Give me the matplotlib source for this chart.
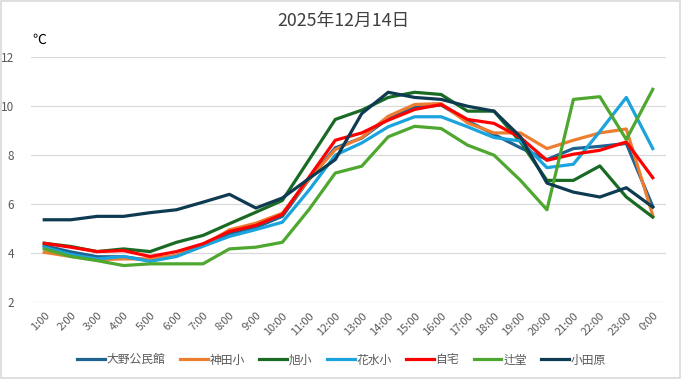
import numpy as np
import matplotlib
matplotlib.use("Agg")
import matplotlib.pyplot as plt
from matplotlib.patches import Rectangle

plt.rcParams['font.family'] = ['Noto Sans CJK JP', 'DejaVu Sans']

hours = [f"{h}:00" for h in range(1, 24)] + ["0:00"]

# temperatures (℃)
oono = [4.3, 4.05, 3.85, 3.85, 3.7, 3.9, 4.3, 4.8, 5.05, 5.5, 7.0, 8.3,
        8.7, 9.5, 9.95, 10.05, 9.4, 8.85, 8.3, 7.82, 8.27, 8.36, 8.48, 5.9]
kanda = [4.03, 3.86, 3.73, 3.76, 3.76, 3.9, 4.3, 4.95, 5.22, 5.63, 7.0, 8.23,
         8.72, 9.59, 10.07, 10.11, 9.32, 8.91, 8.91, 8.27, 8.61, 8.91, 9.07, 5.54]
asahi = [4.4, 4.27, 4.06, 4.17, 4.06, 4.44, 4.72, 5.2, 5.67, 6.15, 7.8, 9.46,
         9.84, 10.36, 10.57, 10.48, 9.8, 9.8, 8.54, 6.97, 6.97, 7.56, 6.29, 5.47]
hanamizu = [4.24, 3.94, 3.76, 3.86, 3.66, 3.86, 4.28, 4.68, 4.96, 5.26, 6.56, 8.0,
            8.5, 9.16, 9.57, 9.57, 9.16, 8.72, 8.58, 7.49, 7.63, 8.97, 10.36, 8.27]
jitaku = [4.4, 4.24, 4.06, 4.1, 3.86, 4.06, 4.38, 4.88, 5.13, 5.58, 7.09, 8.61,
          8.91, 9.43, 9.87, 10.07, 9.46, 9.3, 8.72, 7.79, 8.04, 8.2, 8.54, 7.08]
tsujido = [4.17, 3.86, 3.69, 3.49, 3.56, 3.56, 3.56, 4.17, 4.24, 4.44, 5.77, 7.27,
           7.55, 8.75, 9.18, 9.09, 8.41, 8.0, 6.97, 5.77, 10.28, 10.39, 8.64, 10.69]
odawara = [5.36, 5.36, 5.5, 5.5, 5.65, 5.77, 6.08, 6.4, 5.84, 6.25, 7.04, 7.82,
           9.7, 10.57, 10.36, 10.28, 10.0, 9.8, 8.75, 6.86, 6.49, 6.29, 6.67, 5.88]

names = ["大野公民館", "神田小", "旭小", "花水小", "自宅", "辻堂", "小田原"]
series = [oono, kanda, asahi, hanamizu, jitaku, tsujido, odawara]
colors = ["#1f6391", "#ed7d31", "#196b24", "#1aa3dc", "#ff0000", "#4ea72e", "#0e3a52"]

fig = plt.figure(figsize=(6.81, 3.79), dpi=100)
ax = fig.add_axes([31 / 681, 1 - 302 / 379, 635 / 681, 244.7 / 379])

x = np.arange(len(hours))
for name, vals, c in zip(names, series, colors):
    ax.plot(x, vals, color=c, lw=2.3, label=name, solid_joinstyle="round")

ax.set_xlim(-0.5, len(hours) - 0.5)
ax.set_ylim(2, 12)
ax.set_yticks(range(2, 13, 2))
ax.set_xticks(x)
ax.set_xticklabels(hours, rotation=45, ha="right", rotation_mode="anchor",
                   fontsize=8, color="#595959")
ax.tick_params(axis="y", labelsize=8.5, labelcolor="#595959", length=0, pad=12)
ax.tick_params(axis="x", length=0, pad=6)
ax.grid(axis="y", color="#d9d9d9", lw=0.9)
ax.set_axisbelow(True)
for s in ax.spines.values():
    s.set_visible(False)

fig.text(0.505, 1 - 21 / 379, "2025年12月14日", ha="center", va="center",
         fontsize=12.8, color="#404040")
fig.text(32 / 681, 1 - 40 / 379, "℃", ha="left", va="center",
         fontsize=10, color="black")

fig.legend(loc="center", bbox_to_anchor=(0.5015, 1 - 360 / 379), ncol=7,
           frameon=False, fontsize=8.5, handlelength=2.35, columnspacing=1.23,
           handletextpad=0.15, labelcolor="#595959")

fig.patches.append(Rectangle((0.001, 0.002), 0.997, 0.995, transform=fig.transFigure,
                             fill=False, edgecolor="#d9d9d9", lw=1.2))

fig.savefig("out.png", dpi=100)
